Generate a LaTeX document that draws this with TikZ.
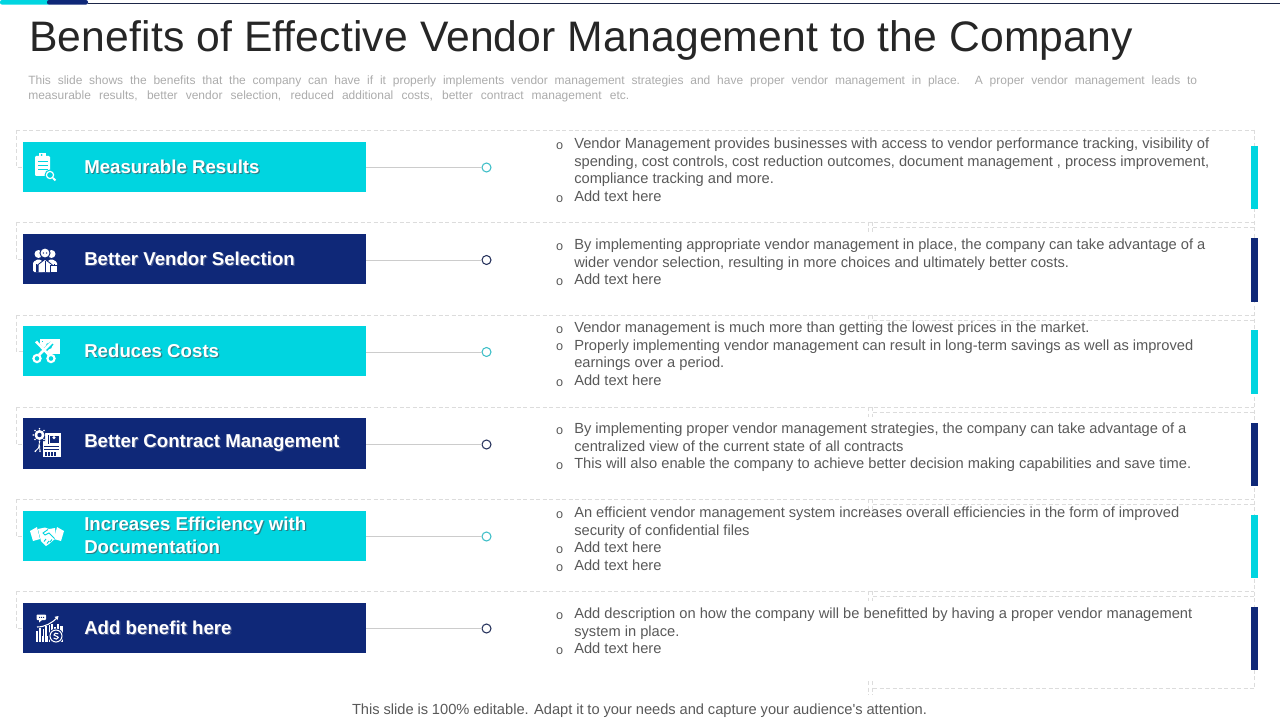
\documentclass[tikz,border=0pt]{standalone}
\usepackage{fontspec}
\setmainfont{Liberation Sans}
\newfontfamily\titlefont[LetterSpace=0.32,Ligatures=NoCommon]{Liberation Sans}
\newdimen\px \px=.75pt
\definecolor{cy}{HTML}{00D5E0}
\definecolor{nv}{HTML}{0F2878}
\definecolor{dsh}{HTML}{DCDCDC}
\definecolor{bodytx}{HTML}{595959}
\definecolor{subtx}{HTML}{ABABAB}
\definecolor{titletx}{HTML}{262626}
\definecolor{cyshadow}{HTML}{2A7F88}
\definecolor{nvshadow}{HTML}{4A5A90}
\definecolor{dotcy}{HTML}{3FBFC8}
\definecolor{dotnv}{HTML}{26325C}
\newcommand{\sh}[2]{\rlap{\kern.9pt\raisebox{-.9pt}{\textcolor{#1}{#2}}}#2}
\newcommand{\jl}[2]{\makebox[#1\px][s]{#2}}
\newcommand{\bul}{\llap{\raisebox{-.4pt}{\fontsize{9.5}{9.5}\selectfont o}\kern11\px}}
\tikzset{
  frame/.style={draw=dsh,line width=.5pt,dash pattern=on 4\px off 2.5\px},
  barbox/.style={anchor=north west,minimum width=343\px,inner sep=0pt,outer sep=0pt},
  labeltx/.style={anchor=west,inner sep=0pt,text=white,font=\fontsize{14}{17.2}\selectfont\bfseries,align=left},
  linkline/.style={draw=black!20,line width=.7pt},
  dotnode/.style={circle,fill=white,line width=.8pt,minimum size=9\px,inner sep=0pt,outer sep=0pt},
  strip/.style={anchor=north west,minimum width=7\px,inner sep=0pt,outer sep=0pt},
  bodytext/.style={anchor=north west,inner sep=0pt,text=bodytx,align=left,font=\fontsize{11}{13.15}\selectfont},
}
\begin{document}
\begin{tikzpicture}[x=.75pt,y=-.75pt]
\useasboundingbox (0,0) rectangle (1280,720);
% top strip
\fill[titletx!60!nv] (88,2.6) rectangle (1280,3.6);
\fill[cy,rounded corners=1.5] (0,0) rectangle (50,4.6);
\fill[nv,rounded corners=1.5] (47,0) rectangle (88,4.6);
% title
\node[anchor=base west,inner sep=0pt,text=titletx,font=\titlefont\fontsize{32}{36}\selectfont] (title) at (29,52) {Benefits of Effective Vendor Management to the Company};
\node[anchor=north west,inner sep=0pt,text=subtx,align=left,font=\fontsize{9}{11.2}\selectfont] (sub) at (28,76) {\jl{1169}{This  slide shows the benefits that the company can have  if it properly  implements vendor  management  strategies and have proper vendor  management  in place.  A proper vendor  management  leads to}\\\jl{601}{measurable  results, better vendor  selection, reduced additional  costs, better contract management  etc.}};
% dashed frames
\foreach \y/\c in {130/167.5,222/259.5,315/351.5,407/444,499/536.5,591/628.5}{
  \draw[frame] (16,\y) -- (1254,\y);
  \draw[frame] (16,\y) -- (16,\c) -- (23,\c);
}
\foreach \y in {227,320,412,504,596}{
  \draw[frame] (873,\y) -- (1254,\y);
  \draw[frame] (868,\y-5) -- (868,\y+5);
  \draw[frame] (872,\y-5) -- (872,\y+5);
}
\draw[frame] (873,688) -- (1254,688);
\draw[frame] (868,681) -- (868,695);
\draw[frame] (872,681) -- (872,695);
\draw[frame] (1254,130) -- (1254,688);
% bars
\node[barbox,fill=cy,minimum height=50\px] (b1) at (23,142) {};
\node[barbox,fill=nv,minimum height=50\px] (b2) at (23,234) {};
\node[barbox,fill=cy,minimum height=50\px] (b3) at (23,326) {};
\node[barbox,fill=nv,minimum height=51\px] (b4) at (23,418) {};
\node[barbox,fill=cy,minimum height=50\px] (b5) at (23,511) {};
\node[barbox,fill=nv,minimum height=50\px] (b6) at (23,603) {};
% dots
\node[dotnode,draw=dotcy] (d1) at (486.5,167.5) {};
\node[dotnode,draw=dotnv] (d2) at (486.5,260) {};
\node[dotnode,draw=dotcy] (d3) at (486.5,352) {};
\node[dotnode,draw=dotnv] (d4) at (486.5,444.5) {};
\node[dotnode,draw=dotcy] (d5) at (486.5,536.5) {};
\node[dotnode,draw=dotnv] (d6) at (486.5,628.5) {};
\foreach \i in {1,...,6}{\draw[linkline] (b\i.east |- d\i.west) -- (d\i.west);}
% labels
\node[labeltx] (l1) at (84,167.5) {\sh{cyshadow}{Measurable Results}};
\node[labeltx] (l2) at (84,259.5) {\sh{nvshadow}{Better Vendor Selection}};
\node[labeltx] (l3) at (84,351.5) {\sh{cyshadow}{Reduces Costs}};
\node[labeltx] (l4) at (84,443.5) {\sh{nvshadow}{Better Contract Management}};
\node[labeltx] (l5) at (84,536) {\sh{cyshadow}{Increases Efficiency with}\\\sh{cyshadow}{Documentation}};
\node[labeltx] (l6) at (84,628.5) {\sh{nvshadow}{Add benefit here}};
% right strips
\node[strip,fill=cy,minimum height=63\px] (s1) at (1251,146) {};
\node[strip,fill=nv,minimum height=64\px] (s2) at (1251,238) {};
\node[strip,fill=cy,minimum height=64\px] (s3) at (1251,330) {};
\node[strip,fill=nv,minimum height=63\px] (s4) at (1251,423) {};
\node[strip,fill=cy,minimum height=63\px] (s5) at (1251,515) {};
\node[strip,fill=nv,minimum height=63\px] (s6) at (1251,607) {};
% body text
\node[bodytext] (t1) at (574,138) {\bul\jl{635}{Vendor Management  provides businesses with access to vendor performance tracking, visibility  of}\\\jl{635}{spending, cost controls, cost reduction outcomes, document management , process improvement,}\\compliance tracking and more.\\\bul Add text here};
\node[bodytext] (t2) at (574,239) {\bul\jl{631}{By implementing appropriate  vendor management in place, the company can take advantage of a}\\wider vendor selection, resulting in more choices and ultimately better costs.\\\bul Add text here};
\node[bodytext] (t3) at (574,322) {\bul Vendor management is much more than getting the lowest prices in the market.\\\bul\jl{619}{Properly implementing vendor management can result in long-term savings as well as improved}\\earnings over a period.\\\bul Add text here};
\node[bodytext] (t4) at (574,423) {\bul\jl{612}{By implementing proper vendor management strategies, the company can take advantage of a}\\centralized view of the current state of all contracts\\\bul\jl{617}{This will also enable the company to achieve better decision making capabilities and save time.}};
\node[bodytext] (t5) at (574,507) {\bul\jl{605}{An efficient vendor management system increases overall efficiencies in the form of improved}\\security of confidential files\\\bul Add text here\\\bul Add text here};
\node[bodytext] (t6) at (574,608) {\bul\jl{618}{Add description on how the company will be benefitted  by having a proper vendor  management}\\system in place.\\\bul Add text here};
\node[anchor=base,inner sep=0pt,text=bodytx,font=\fontsize{11}{13}\selectfont] (foot) at (639.5,714) {\jl{575}{This slide is 100\% editable.  Adapt it to your needs and capture your audience\textquotesingle s attention.}};
% icon 1: clipboard and lens
\fill[white,rounded corners=.8] (35,156) rectangle (50,176);
\fill[white] (39,153.5) rectangle (46,158);
\fill[cy] (41.7,155) circle (1);
\foreach \y in {161,165,169}{\fill[cy] (37.5,\y) rectangle (48,\y+1.2);}
\fill[cy] (50,175) circle (5.5);
\draw[white,line width=.9pt] (50,175) circle (3.6);
\draw[white,line width=1.4pt] (53,178) -- (55.5,180.5);
% icon 2: three people
\foreach \cx/\cy in {38.5/254,51.5/254}{
  \fill[white] (\cx,\cy) circle (4);
  \fill[white,rounded corners=1] (\cx-5.5,272) -- (\cx-5.5,262) -- (\cx,259) -- (\cx+5.5,262) -- (\cx+5.5,272) -- cycle;
}
\fill[nv] (45,253) circle (5.6);
\fill[white] (45,253) circle (4.4);
\fill[nv] (43.4,253) circle (.7) (46.6,253) circle (.7);
\fill[nv] (37,265) -- (45,258.5) -- (53,265) -- (53,272) -- (37,272) -- cycle;
\fill[white] (38.5,272) -- (38.5,265) -- (45,260) -- (51.5,265) -- (51.5,272) -- cycle;
\draw[nv,line width=.6pt] (45,261) -- (45,272) (36,264) -- (36,272) (54,264) -- (54,272);
\fill[white] (50.5,265) rectangle (57,272);
\draw[nv,line width=.5pt] (50.5,265) rectangle (57,272);
% icon 3: scissors and banknote
\fill[white] (40,339) rectangle (59.5,353.5);
\fill[cy] (49,346) circle (3.2);
\fill[cy] (42,341) rectangle (43,342);
\draw[cy,line width=3.2pt] (36,343) -- (50,358);
\draw[cy,line width=3.2pt] (52,343) -- (37,358);
\draw[white,line width=1.9pt] (36,341.5) -- (49,355);
\draw[white,line width=1.9pt] (52.5,341.5) -- (39,355);
\draw[white,line width=1.6pt] (37,358.5) circle (3.6);
\draw[white,line width=1.6pt] (51,358.5) circle (3.6);
% icon 4: gear, circuit and document
\fill[white] (42.5,433) rectangle (61,457);
\fill[nv] (48,434.5) rectangle (59.5,444);
\draw[white,line width=.7pt] (49,435) rectangle (59,443.5);
\fill[white] (54,437.6) circle (1.7);
\fill[white] (50.8,443.5) arc (180:0:3.2) -- cycle;
\foreach \y in {446,448.5}{\fill[nv] (44,\y) rectangle (59,\y+1);}
\foreach \x in {45,48,51,54}{\fill[nv] (\x,452) rectangle (\x+2,455.5);}
\fill[nv] (40,430) -- (45,433) -- (45,441) -- (36,441) -- cycle;
\fill[white] (39.5,435) circle (5);
\fill[nv] (39.5,435) circle (2.2);
\foreach \a in {0,45,...,315}{\fill[white] (39.5,435) ++(\a:6.3) circle (.9);}
\draw[white,line width=.6pt] (39.5,442) -- (38.5,448) -- (35.5,451) (39.5,445) -- (40,451);
\fill[white] (35.3,451.3) circle (.9) (40,451.3) circle (.9);
% icon 5: handshake
\fill[white] (30,531) -- (37,527) -- (40,539) -- (33,541) -- cycle;
\fill[white] (64,531) -- (57,527) -- (54,539) -- (61,541) -- cycle;
\fill[white] (38,529) -- (45,527.5) -- (49,529) -- (55,528) -- (56,538) -- (49,544) -- (46,546) -- (41,541) -- cycle;
\draw[cy,line width=.7pt] (48,529.5) -- (43,533) -- (45,535) -- (49,533) -- (54.5,538.5);
\draw[cy,line width=.7pt] (44,541.5) -- (46,539) (47,543.5) -- (49,541) (50,542) -- (52,539.5);
% icon 6: bubble, growth arrow, barcode and coin
\fill[white,rounded corners=.7] (36.5,614.5) rectangle (46,620);
\fill[white] (39,620) -- (42,620) -- (39,622.5) -- cycle;
\fill[nv] (39,616.8) rectangle +(1,1) (41,616.8) rectangle +(1,1) (43,616.8) rectangle +(1,1);
\draw[white,line width=.8pt] (37,627) .. controls (45,627) and (52,623) .. (57.5,617.5);
\fill[white] (58.5,616) -- (54.5,616.8) -- (57.5,620) -- cycle;
\foreach \x/\t/\w in {36/631/1.6,39/628/2,42.5/629/1.2,45/626/2.2,48.5/625/1.4,51/624/2,54/627/1.5,57/624/1.5,60/626/2.5}{
  \fill[white] (\x,\t) rectangle (\x+\w,642);
}
\fill[white] (36,636) rectangle (63,642);
\foreach \x in {38,41,44.2,47.5,50}{\fill[nv] (\x,636) rectangle (\x+.9,642);}
\fill[nv] (56,636) circle (7.5);
\draw[white,line width=.8pt] (56,636) circle (6);
\draw[white,line width=.8pt] (58.3,633.8) .. controls (56.5,632.3) and (53.6,633.2) .. (54,635) .. controls (54.4,636.5) and (58.2,635.7) .. (58.2,637.6) .. controls (58.2,639.5) and (55,639.6) .. (53.6,638);
\end{tikzpicture}
\end{document}
